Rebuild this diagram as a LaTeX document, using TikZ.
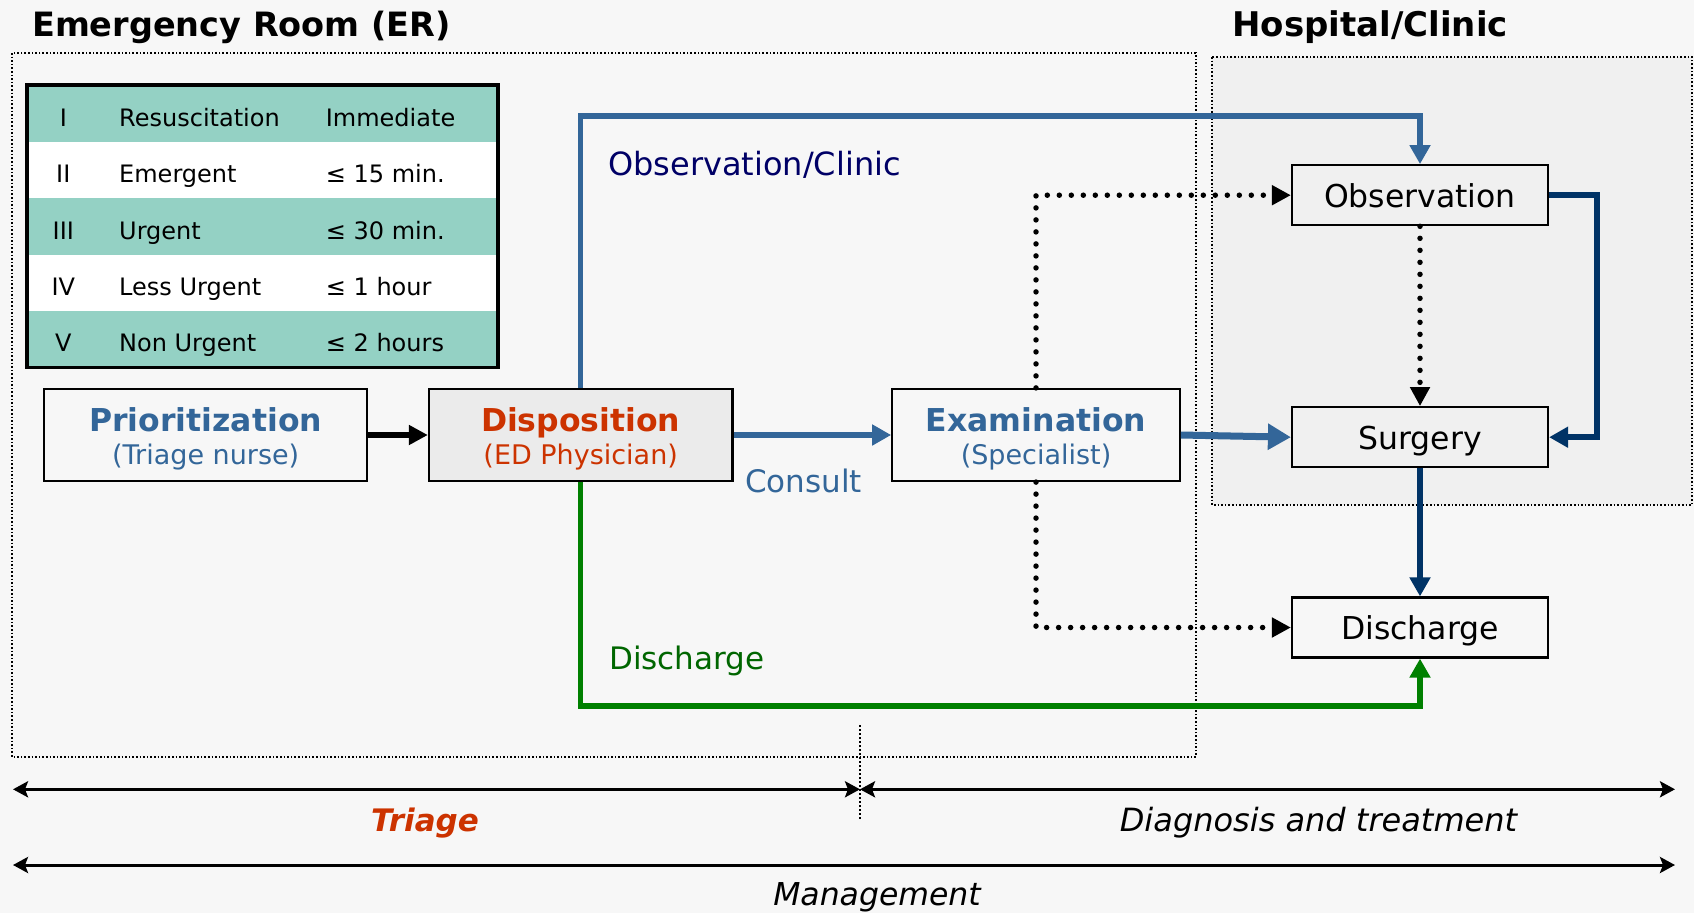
\documentclass[tikz,border=0pt]{standalone}
\usepackage{fontspec}
\setmainfont{DejaVu Sans}
\usetikzlibrary{arrows.meta,calc}
\definecolor{pagebg}{HTML}{F7F7F7}
\definecolor{hospbg}{HTML}{F0F0F0}
\definecolor{tealrow}{HTML}{94D1C4}
\definecolor{pblue}{HTML}{336699}
\definecolor{navyline}{HTML}{003366}
\definecolor{obsnavy}{HTML}{000066}
\definecolor{dred}{HTML}{CC3300}
\definecolor{dgreen}{HTML}{008000}
\definecolor{tgreen}{HTML}{006600}
\definecolor{dispfill}{HTML}{EBEBEB}
\newcommand{\myfs}[1]{\fontsize{#1}{#1}\selectfont}
\begin{document}
\begin{tikzpicture}[x=1pt,y=-1pt,
  txt/.style={inner sep=0pt,anchor=base},
  txtw/.style={inner sep=0pt,anchor=base west},
  procbox/.style={draw=black,line width=2.2pt,inner sep=0pt,minimum height=92pt},
  hbox/.style={draw=black,line width=2.2pt,inner sep=0pt,minimum width=256pt,minimum height=60pt,
    text height=24.5pt,text depth=0pt,font=\myfs{31.5}},
  tipA/.style={-{Triangle[length=19pt,width=20pt]}},
  flow/.style={line width=5.5pt},
  dotarrow/.style={line width=5.5pt,dash pattern=on 0pt off 12pt,line cap=round,
    -{Triangle[length=19pt,width=19pt]}},
  spanarrow/.style={line width=3pt,{Stealth[length=15pt,width=16pt,inset=3pt]}-{Stealth[length=15pt,width=16pt,inset=3pt]}},
  region/.style={line width=1.6pt,dotted}
]
\useasboundingbox (0,0) rectangle (1694,913);
\fill[pagebg] (0,0) rectangle (1694,913);

% regions
\filldraw[region,fill=hospbg] (1212,57) rectangle (1692,505);
\draw[region] (12,53) rectangle (1196,757);

% titles
\node[txtw,font=\myfs{33.5}\bfseries] (ertitle) at (32,36) {Emergency Room (ER)};
\node[txtw,font=\myfs{34}\bfseries] (hosptitle) at (1232,36) {Hospital/Clinic};

% table
\fill[tealrow] (27,85) rectangle (498,141.7);
\fill[white] (27,141.7) rectangle (498,198);
\fill[tealrow] (27,198) rectangle (498,255);
\fill[white] (27,255) rectangle (498,311);
\fill[tealrow] (27,311) rectangle (498,367.7);
\draw[line width=3.5pt] (27,85) rectangle (498,367.7);
\begin{scope}[every node/.append style={font=\myfs{24}}]
\node[txt] (n1) at (63.3,126.7) {I};
\node[txtw] (c1) at (119,126.7) {Resuscitation};
\node[txtw] (t1) at (325.7,126.7) {Immediate};
\node[txt] (n2) at (63.3,182.7) {II};
\node[txtw] (c2) at (119,182.7) {Emergent};
\node[txtw] (t2) at (325.7,182.7) {≤ 15 min.};
\node[txt] (n3) at (63.3,239) {III};
\node[txtw] (c3) at (119,239) {Urgent};
\node[txtw] (t3) at (325.7,239) {≤ 30 min.};
\node[txt] (n4) at (63.3,295) {IV};
\node[txtw] (c4) at (119,295) {Less Urgent};
\node[txtw] (t4) at (325.7,295) {≤ 1 hour};
\node[txt] (n5) at (63.3,351) {V};
\node[txtw] (c5) at (119,351) {Non Urgent};
\node[txtw] (t5) at (325.7,351) {≤ 2 hours};
\end{scope}

% process boxes
\node[procbox,minimum width=323pt] (prio) at (205.7,435) {};
\node[procbox,minimum width=303.5pt,fill=dispfill] (disp) at (580.7,435) {};
\node[procbox,minimum width=287.5pt] (exam) at (1036,435) {};
\node[txt,font=\myfs{31.5}\bfseries,text=pblue] (prioT) at ([yshift=3.3pt]prio.center) {Prioritization};
\node[txt,font=\myfs{27},text=pblue] (prioS) at ([yshift=-29.5pt]prio.center) {(Triage nurse)};
\node[txt,font=\myfs{31.5}\bfseries,text=dred] (dispT) at ([yshift=3.3pt]disp.center) {Disposition};
\node[txt,font=\myfs{27},text=dred] (dispS) at ([yshift=-29.5pt]disp.center) {(ED Physician)};
\node[txt,font=\myfs{31.5}\bfseries,text=pblue] (examT) at ([yshift=3.3pt]exam.center) {Examination};
\node[txt,font=\myfs{27},text=pblue] (examS) at ([yshift=-29.5pt]exam.center) {(Specialist)};

% hospital boxes
\node[hbox] (obs) at (1420,195.2) {Observation};
\node[hbox] (surg) at (1420,437.2) {Surgery};
\node[hbox] (dis) at (1420,627.5) {Discharge};

% labels
\node[txtw,font=\myfs{32},text=obsnavy] (lobs) at (608,175) {Observation/Clinic};
\node[txtw,font=\myfs{31},text=pblue] (lcons) at (745,492.7) {Consult};
\node[txtw,font=\myfs{31},text=tgreen] (ldis) at (609,669.3) {Discharge};

% connectors
\draw[line width=6pt,-{Triangle[length=19pt,width=19pt]}] (prio.east) -- (disp.west);
\draw[flow,pblue,tipA] (disp.east) -- (exam.west);
\draw[line width=7pt,pblue,-{Triangle[length=23pt,width=25pt]}] (exam.east) -- (surg.west);
\draw[flow,pblue,tipA] (disp.north) |- ([yshift=48pt]obs.north) -- (obs.north);
\draw[flow,dgreen,tipA] (disp.south) |- ([yshift=-47.5pt]dis.south) -- (dis.south);
\draw[flow,navyline,tipA] (obs.east) -- ++(48,0) |- (surg.east);
\draw[flow,navyline,tipA] (surg.south) -- (dis.north);
\draw[dotarrow] (exam.north) |- (obs.west);
\draw[dotarrow] (exam.south) |- (dis.west);
\draw[dotarrow] (obs.south) -- (surg.north);

% phase spans
\coordinate (sL) at (13,789.3);
\coordinate (sM) at (860,789.3);
\coordinate (sR) at (1675,789.3);
\coordinate (mL) at (13,865);
\coordinate (mR) at (1675,865);
\coordinate (vT) at (860,725);
\coordinate (vB) at (860,819);
\draw[line width=1.2pt,dash pattern=on 2pt off 2pt] (vT) -- (vB);
\draw[spanarrow] (sL) -- (sM);
\draw[spanarrow] (sM) -- (sR);
\draw[spanarrow] (mL) -- (mR);
\node[txt,font=\myfs{31}\bfseries\itshape,text=dred] (ltri) at (425,831.7) {Triage};
\node[txt,font=\myfs{32}\itshape] (ldia) at (1318.5,831) {Diagnosis and treatment};
\node[txt,font=\myfs{31.5}\itshape] (lman) at (877,905.7) {Management};
\end{tikzpicture}
\end{document}
